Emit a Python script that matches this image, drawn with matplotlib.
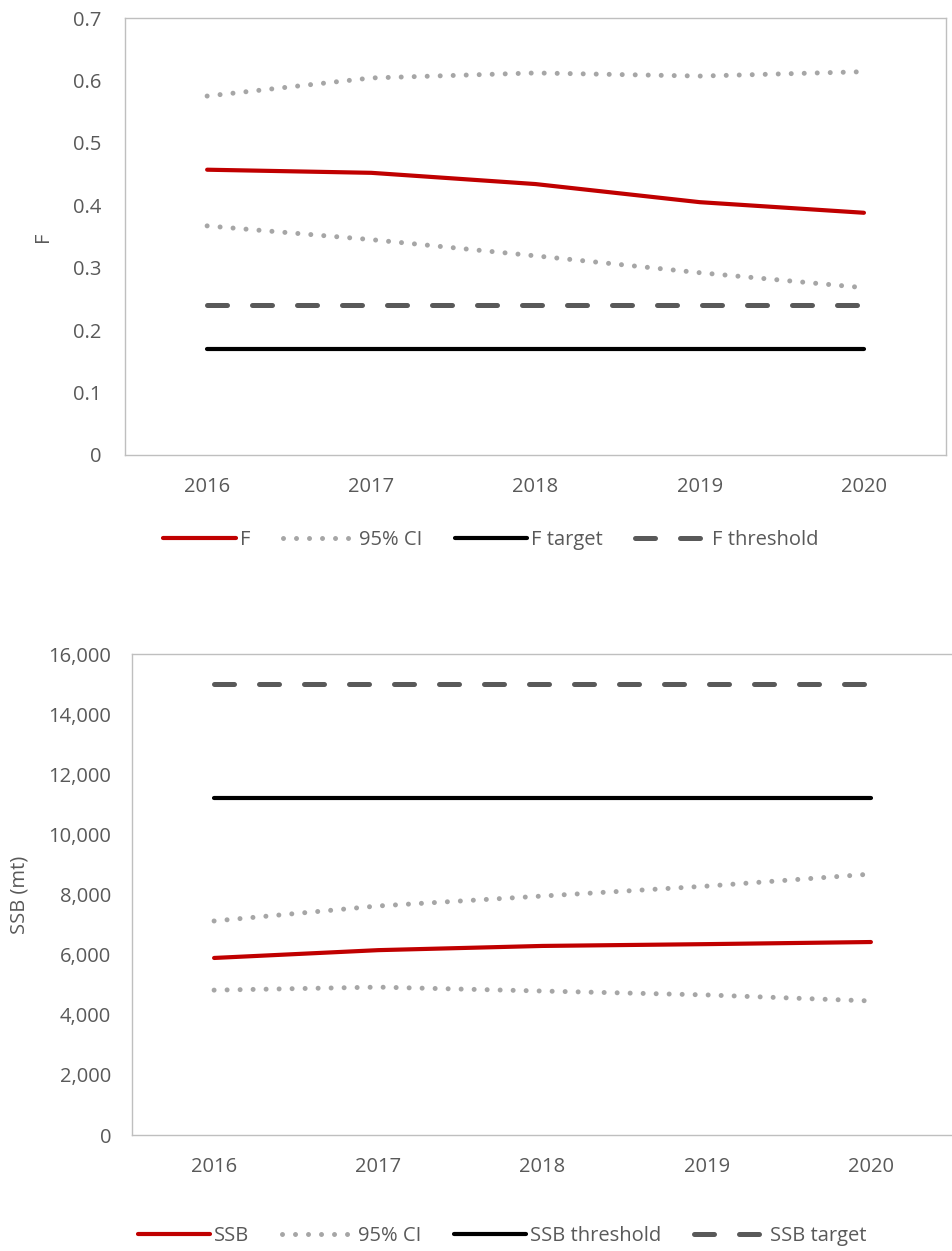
import matplotlib
matplotlib.use("Agg")
import matplotlib.pyplot as plt
from matplotlib.ticker import FuncFormatter

# ---- data ----
years = ["2016", "2017", "2018", "2019", "2020"]

f_est = [0.457, 0.452, 0.434, 0.405, 0.388]
f_ci_hi = [0.575, 0.604, 0.612, 0.607, 0.614]
f_ci_lo = [0.367, 0.345, 0.319, 0.292, 0.268]
f_target = [0.17, 0.17, 0.17, 0.17, 0.17]
f_threshold = [0.24, 0.24, 0.24, 0.24, 0.24]

ssb_est = [5890, 6150, 6290, 6350, 6420]
ssb_ci_hi = [7120, 7620, 7950, 8280, 8680]
ssb_ci_lo = [4820, 4920, 4790, 4660, 4460]
ssb_threshold = [11200, 11200, 11200, 11200, 11200]
ssb_target = [15000, 15000, 15000, 15000, 15000]

plt.rcParams['font.family'] = ['Open Sans', 'DejaVu Sans']

RED = "#c00000"
GREY_DOT = "#a6a6a6"
DARK = "#595959"
SPINE = "#bfbfbf"
TXT = "#595959"
FS = 14.5

dotted = dict(color=GREY_DOT, lw=3.6, linestyle=(0, (0.001, 2.6)),
              dash_capstyle="round", solid_capstyle="round")
dashed = dict(color=DARK, lw=3.6, linestyle=(0, (4.0, 5.0)),
              dash_capstyle="round")


def style_axes(ax, ylabel, ypad):
    for s in ax.spines.values():
        s.set_color(SPINE)
        s.set_linewidth(1.0)
    ax.tick_params(length=0, colors=TXT, labelsize=FS)
    ax.tick_params(axis="x", pad=16)
    ax.tick_params(axis="y", pad=ypad)
    ax.set_xlim(-0.5, 4.5)
    ax.set_xticks(range(len(years)))
    ax.set_xticklabels(years)
    ax.set_ylabel(ylabel, color=TXT, fontsize=FS)


fig = plt.figure(figsize=(9.53, 12.51), dpi=100)

# top panel: fishing mortality
ax1 = fig.add_axes([0.1312, 0.6363, 0.8615, 0.3493])
x = range(len(years))
ax1.plot(x, f_est, color=RED, lw=3.0, solid_capstyle="round", label="F")
ax1.plot(x, f_ci_hi, label="95% CI", **dotted)
ax1.plot(x, f_ci_lo, **dotted)
ax1.plot(x, f_target, color="black", lw=3.0, solid_capstyle="round", label="F target")
ax1.plot(x, f_threshold, label="F threshold", **dashed)
ax1.set_ylim(0, 0.7)
ax1.set_yticks([0, 0.1, 0.2, 0.3, 0.4, 0.5, 0.6, 0.7])
ax1.yaxis.set_major_formatter(FuncFormatter(lambda v, p: "0" if v == 0 else f"{v:.1f}"))
style_axes(ax1, "F", 17)
ax1.yaxis.set_label_coords(-0.088, 0.5)
fig.legend(*ax1.get_legend_handles_labels(), loc="center", bbox_to_anchor=(0.515, 0.568),
           ncol=4, frameon=False, handlelength=3.6, handletextpad=0.2,
           columnspacing=1.6, labelcolor=TXT, prop={"size": FS})

# bottom panel: spawning stock biomass
ax2 = fig.add_axes([0.1385, 0.0927, 0.8615, 0.3845])
ax2.plot(x, ssb_est, color=RED, lw=3.0, solid_capstyle="round", label="SSB")
ax2.plot(x, ssb_ci_hi, label="95% CI", **dotted)
ax2.plot(x, ssb_ci_lo, **dotted)
ax2.plot(x, ssb_threshold, color="black", lw=3.0, solid_capstyle="round", label="SSB threshold")
ax2.plot(x, ssb_target, label="SSB target", **dashed)
ax2.set_ylim(0, 16000)
ax2.set_yticks(range(0, 16001, 2000))
ax2.yaxis.set_major_formatter(FuncFormatter(lambda v, p: f"{int(v):,}"))
style_axes(ax2, "SSB (mt)", 15)
ax2.yaxis.set_label_coords(-0.125, 0.5)
fig.legend(*ax2.get_legend_handles_labels(), loc="center", bbox_to_anchor=(0.527, 0.012),
           ncol=4, frameon=False, handlelength=3.6, handletextpad=0.2,
           columnspacing=1.6, labelcolor=TXT, prop={"size": FS})

fig.savefig("out.png", dpi=100)
